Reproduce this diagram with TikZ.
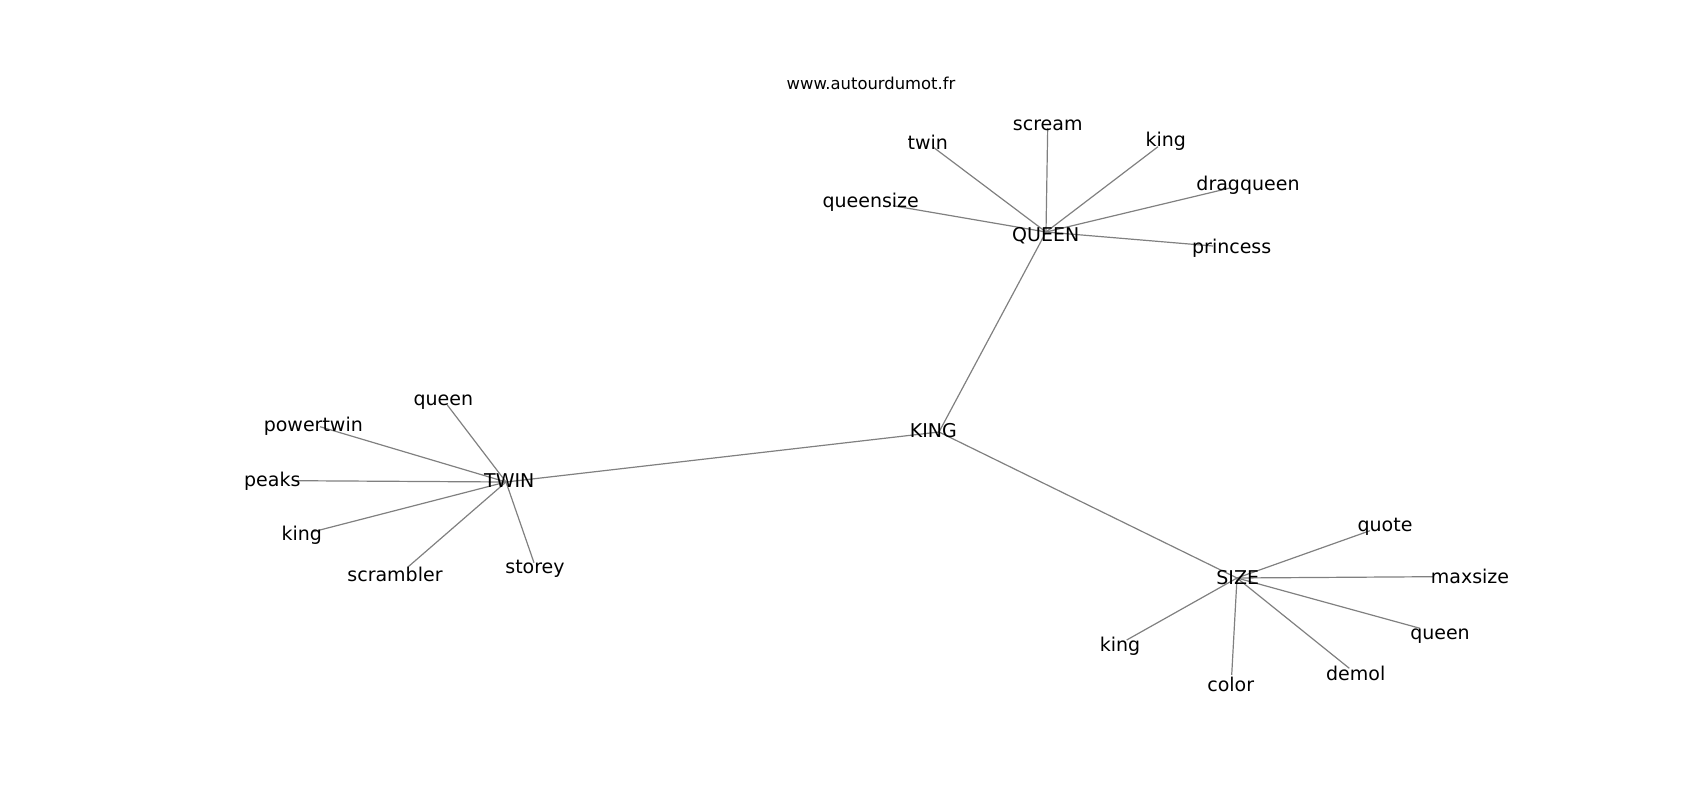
\documentclass[tikz,border=0pt]{standalone}
\usepackage{fontspec}
\setmainfont{DejaVu Sans}
\begin{document}
\begin{tikzpicture}[x=0.75pt,y=0.75pt,yscale=-1,xscale=1,
    lbl/.style={anchor=center,inner sep=0.75pt,yshift=-0.8pt,font=\fontsize{14.25}{17}\selectfont},
    url/.style={anchor=center,inner sep=0.75pt,yshift=-0.8pt,font=\fontsize{12.3}{15}\selectfont},
    edge/.style={color={rgb, 255:red, 128; green, 128; blue, 128},line width=0.9pt}]
    %set diagram left start at 0, and has height of 800
    \path[use as bounding box] (0,0) rectangle (1700,800);

    % Vertices
    \coordinate (vKING) at (939,432);
    \coordinate (vQUEEN) at (1046,232);
    \coordinate (vTWIN) at (506,482);
    \coordinate (vSIZE) at (1237,578);
    \coordinate (vqScream) at (1047.7,128);
    \coordinate (vqTwin) at (933,147);
    \coordinate (vqKing) at (1158,146.7);
    \coordinate (vqDrag) at (1230,188);
    \coordinate (vqSize) at (893,205.7);
    \coordinate (vqPrincess) at (1213,246);
    \coordinate (vtQueen) at (447.3,405);
    \coordinate (vtPower) at (320,426.7);
    \coordinate (vtPeaks) at (295,480.7);
    \coordinate (vtKing) at (313.3,531.7);
    \coordinate (vtScrambler) at (408.3,566.7);
    \coordinate (vtStorey) at (534,562.7);
    \coordinate (vsQuote) at (1370,530.7);
    \coordinate (vsMax) at (1433.3,576.7);
    \coordinate (vsQueen) at (1420,628.3);
    \coordinate (vsDemol) at (1349.3,668.3);
    \coordinate (vsColor) at (1231.7,675);
    \coordinate (vsKing) at (1126.7,640);

    %Straight Lines
    \draw [edge] (vKING) -- (vQUEEN) ;
    \draw [edge] (vKING) -- (vTWIN) ;
    \draw [edge] (vKING) -- (vSIZE) ;
    %Straight Lines
    \foreach \leaf in {vqScream,vqTwin,vqKing,vqDrag,vqSize,vqPrincess}
        \draw [edge] (vQUEEN) -- (\leaf) ;
    %Straight Lines
    \foreach \leaf in {vtQueen,vtPower,vtPeaks,vtKing,vtScrambler,vtStorey}
        \draw [edge] (vTWIN) -- (\leaf) ;
    %Straight Lines
    \foreach \leaf in {vsQuote,vsMax,vsQueen,vsDemol,vsColor,vsKing}
        \draw [edge] (vSIZE) -- (\leaf) ;

    % Text Node
    \draw (871,82.7) node [url] (site) {www.autourdumot.fr};
    % Text Node
    \draw (933.3,429.5) node [lbl] (king) {KING};
    \draw (1045.7,234.5) node [lbl] (queen) {QUEEN};
    \draw (509.3,479.7) node [lbl] (twin) {TWIN};
    \draw (1237.7,576.2) node [lbl] (size) {SIZE};
    % Text Node
    \draw (1047.7,124.5) node [lbl] (qScream) {scream};
    \draw (927.7,141.7) node [lbl] (qTwin) {twin};
    \draw (1165.7,140.5) node [lbl] (qKing) {king};
    \draw (1248,184) node [lbl] (qDrag) {dragqueen};
    \draw (870.7,201.5) node [lbl] (qSize) {queensize};
    \draw (1231.7,247.5) node [lbl] (qPrincess) {princess};
    % Text Node
    \draw (443.3,401.5) node [lbl] (tQueen) {queen};
    \draw (313.3,425.5) node [lbl] (tPower) {powertwin};
    \draw (272.3,480) node [lbl] (tPeaks) {peaks};
    \draw (301.7,534.3) node [lbl] (tKing) {king};
    \draw (395,573.3) node [lbl] (tScrambler) {scrambler};
    \draw (535,567.3) node [lbl] (tStorey) {storey};
    % Text Node
    \draw (1385,525.5) node [lbl] (sQuote) {quote};
    \draw (1470,575) node [lbl] (sMax) {maxsize};
    \draw (1440,634.7) node [lbl] (sQueen) {queen};
    \draw (1355.7,672.3) node [lbl] (sDemol) {demol};
    \draw (1230.7,683.3) node [lbl] (sColor) {color};
    \draw (1120,645.3) node [lbl] (sKing) {king};
\end{tikzpicture}
\end{document}
